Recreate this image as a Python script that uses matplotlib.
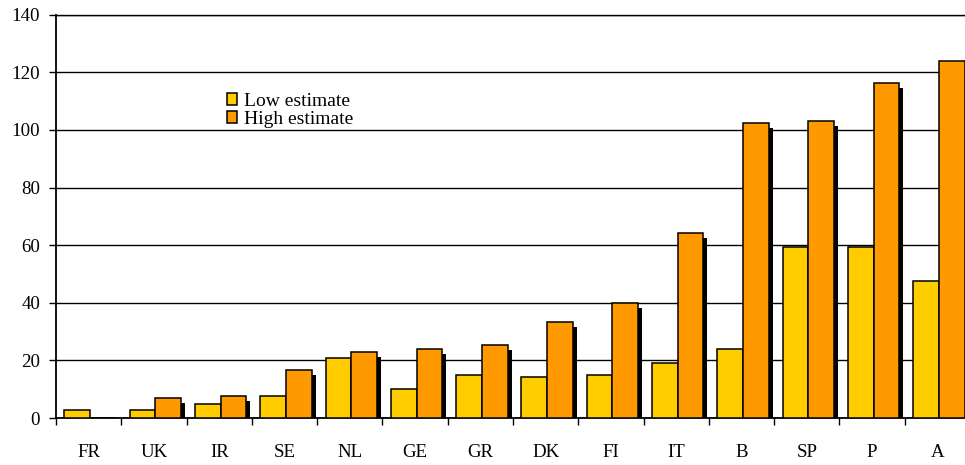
import numpy as np
import matplotlib
matplotlib.use('Agg')
import matplotlib.pyplot as plt
import matplotlib.patheffects as pe
from matplotlib.patches import Patch

plt.rcParams['font.family'] = ['Liberation Serif', 'DejaVu Serif']

# Estimates per country
countries = ['FR', 'UK', 'IR', 'SE', 'NL', 'GE', 'GR', 'DK', 'FI', 'IT', 'B', 'SP', 'P', 'A']
low_estimate = [2.8, 2.8, 4.8, 7.7, 20.7, 10.2, 15.0, 14.3, 15.0, 19.2, 23.9, 59.5, 59.5, 47.7]
high_estimate = [0, 6.8, 7.7, 16.6, 22.8, 24.1, 25.4, 33.2, 39.8, 64.3, 102.5, 103.2, 116.4, 124.0]
yticks = np.arange(0, 141, 20)

low_color = '#FFCC00'
high_color = '#FF9900'

W, H = 965, 465
fig = plt.figure(figsize=(W / 100, H / 100), dpi=100)
ax = fig.add_axes([56 / W, 1 - 418 / H, 914 / W, (418 - 14.7) / H])

x = np.arange(len(countries))
w = 0.394
shift = 0.023

ax.bar(x - w / 2 + shift, low_estimate, w, color=low_color, edgecolor='black',
       linewidth=1.1, zorder=3)
ax.bar(x + w / 2 + shift, high_estimate, w, color=high_color, edgecolor='black',
       linewidth=1.1, zorder=3,
       path_effects=[pe.SimplePatchShadow(offset=(2.9, -3.6), shadow_rgbFace='black', alpha=1.0),
                     pe.Normal()])

ax.set_xlim(-0.5, len(countries) - 0.5)
ax.set_ylim(0, 140)
ax.set_yticks(yticks)
ax.yaxis.grid(True, color='black', linewidth=1.0)
ax.set_axisbelow(True)

# boundary ticks between groups, labels at group centres
ax.set_xticks(np.arange(-0.5, len(countries), 1.0))
ax.set_xticklabels([])
ax.set_xticks(x, minor=True)
ax.set_xticklabels(countries, minor=True)
ax.tick_params(axis='x', which='major', direction='out', length=5, width=1.0)
ax.tick_params(axis='x', which='minor', length=0, pad=19, labelsize=13.6)
ax.tick_params(axis='y', direction='out', length=5, width=1.0, pad=6.5, labelsize=13.6)

for side in ['left', 'bottom', 'top']:
    ax.spines[side].set_color('black')
    ax.spines[side].set_linewidth(1.0)
ax.spines['left'].set_linewidth(1.3)
ax.spines['bottom'].set_linewidth(1.3)
ax.spines['right'].set_visible(False)

handles = [Patch(facecolor=low_color, edgecolor='black', linewidth=1.1, label='Low estimate'),
           Patch(facecolor=high_color, edgecolor='black', linewidth=1.1, label='High estimate')]
ax.legend(handles=handles, loc='upper left', bbox_to_anchor=(227 / W, 1 - 93 / H),
          bbox_transform=fig.transFigure, frameon=False, borderpad=0, borderaxespad=0,
          handlelength=0.5, handleheight=0.55, handletextpad=0.4, labelspacing=0.05, fontsize=14)

fig.savefig('out.png', dpi=100)
